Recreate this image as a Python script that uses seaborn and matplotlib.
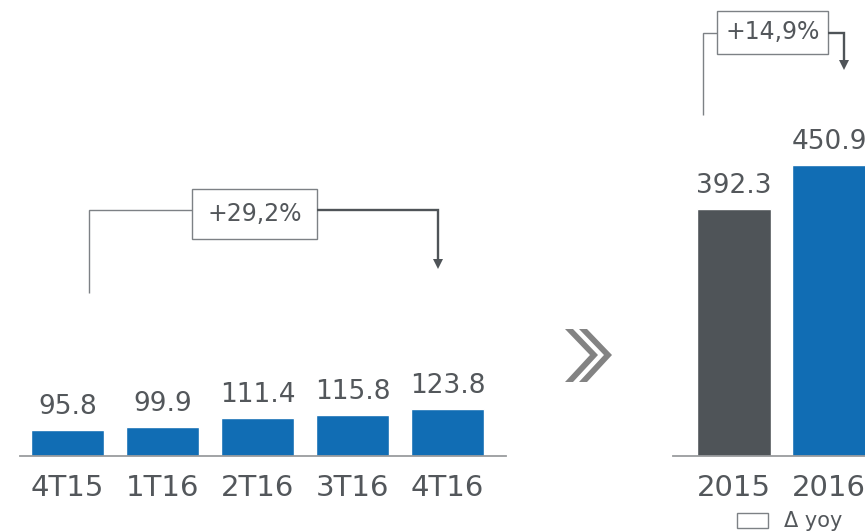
import matplotlib
matplotlib.use("Agg")
import matplotlib.pyplot as plt
import seaborn as sns
import pandas as pd
from matplotlib.lines import Line2D
from matplotlib.patches import Polygon, Rectangle

# ---- data ----
quarters = ["4T15", "1T16", "2T16", "3T16", "4T16"]
quarter_values = [95.8, 99.9, 111.4, 115.8, 123.8]
years = ["2015", "2016"]
year_values = [392.3, 450.9]
quarter_growth = "+29,2%"
year_growth = "+14,9%"
legend_label = "Δ yoy"

BLUE = "#116db4"
DARK = "#4f5458"
TEXT = "#53575b"
AXIS = "#9a9c9e"
LIGHTLINE = "#7d8185"

W, H = 865, 531
DPI = 100
sns.set_theme(style="white")
plt.rcParams["font.family"] = ["DejaVu Sans"]

fig = plt.figure(figsize=(W / DPI, H / DPI), dpi=DPI)


def fx(px):
    return px / W


def fy(py):
    return 1 - py / H


YMIN, YMAX = 61.0, 672.0
base_frac = fy(456)

# left panel
ax1 = fig.add_axes([fx(20), base_frac, fx(506) - fx(20), 1 - base_frac])
df_q = pd.DataFrame({"q": quarters, "v": quarter_values})
sns.barplot(data=df_q, x="q", y="v", ax=ax1, color=BLUE, saturation=1, width=0.77)
ax1.set_xlim(-0.5, 4.616)

# right panel
ax2 = fig.add_axes([fx(673), base_frac, fx(900) - fx(673), 1 - base_frac])
df_y = pd.DataFrame({"y": years, "v": year_values})
sns.barplot(data=df_y, x="y", y="v", hue="y", palette=[DARK, BLUE], legend=False,
            ax=ax2, saturation=1, width=0.78)
ax2.set_xlim(-0.642, 1.747)

for ax in (ax1, ax2):
    ax.set_ylim(YMIN, YMAX)
    ax.set_facecolor("none")
    for s in ("top", "right", "left"):
        ax.spines[s].set_visible(False)
    ax.spines["bottom"].set_color(AXIS)
    ax.spines["bottom"].set_linewidth(1.3)
    ax.set_yticks([])
    ax.set_xlabel("")
    ax.set_ylabel("")
    ax.tick_params(axis="x", length=0, pad=13, labelsize=21, labelcolor=TEXT)

for ax, labels, vals in ((ax1, quarters, quarter_values), (ax2, years, year_values)):
    for i, v in enumerate(vals):
        ax.annotate(f"{v:.1f}", xy=(i, v), xytext=(0, 11.5), textcoords="offset points",
                    ha="center", va="baseline", fontsize=19, color=TEXT)


def line(pts, color, lw):
    xs = [fx(p[0]) for p in pts]
    ys = [fy(p[1]) for p in pts]
    fig.add_artist(Line2D(xs, ys, color=color, lw=lw, transform=fig.transFigure,
                          solid_capstyle="butt", solid_joinstyle="miter"))


def arrowhead(x, ytip, color, w=10, h=10):
    pts = [(fx(x - w / 2), fy(ytip - h)), (fx(x + w / 2), fy(ytip - h)), (fx(x), fy(ytip))]
    fig.add_artist(Polygon(pts, closed=True, facecolor=color, edgecolor="none",
                           transform=fig.transFigure))


def box(x0, y0, x1, y1, text, fs):
    fig.add_artist(Rectangle((fx(x0), fy(y1)), fx(x1) - fx(x0), fy(y0) - fy(y1),
                             facecolor="white", edgecolor=LIGHTLINE, lw=1.0,
                             transform=fig.transFigure))
    fig.text(fx((x0 + x1) / 2), fy((y0 + y1) / 2), text, ha="center", va="center",
             fontsize=fs, color=TEXT)


# left bracket
line([(89, 293), (89, 210), (192, 210)], LIGHTLINE, 1.0)
box(192, 189, 317, 239, quarter_growth, 17)
line([(317, 210), (438, 210), (438, 260)], DARK, 1.7)
arrowhead(438, 269, DARK)

# right bracket
line([(703, 115), (703, 33), (717, 33)], LIGHTLINE, 1.0)
box(717, 11, 828, 54, year_growth, 17)
line([(828, 33), (844, 33), (844, 61)], DARK, 1.7)
arrowhead(844, 70, DARK)

# chevrons
for dx in (0, 14):
    pts = [(565 + dx, 329), (573 + dx, 329), (598 + dx, 355), (573 + dx, 382),
           (565 + dx, 382), (590 + dx, 355)]
    fig.add_artist(Polygon([(fx(a), fy(b)) for a, b in pts], closed=True,
                           facecolor="#838383", edgecolor="none",
                           transform=fig.transFigure))

# legend
fig.add_artist(Rectangle((fx(737), fy(528)), fx(768) - fx(737), fy(513) - fy(528),
                         facecolor="white", edgecolor=LIGHTLINE, lw=1.0,
                         transform=fig.transFigure))
fig.text(fx(784), fy(521), legend_label, ha="left", va="center", fontsize=15, color=TEXT)

fig.savefig("out.png", dpi=DPI)
